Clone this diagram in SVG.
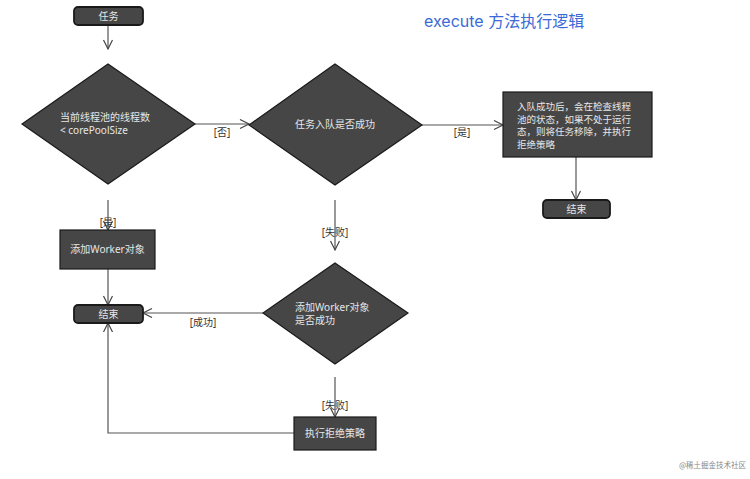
<svg xmlns="http://www.w3.org/2000/svg" width="750" height="479" viewBox="0 0 750 479">
<style>
.n{fill:#464646;stroke:#1a1a1a;stroke-width:1.2}
.r{fill:#464646;stroke:#1a1a1a;stroke-width:1.8}
.t{fill:#e6e6e6;font-family:"Noto Sans","Noto Sans CJK SC",sans-serif;font-size:10px}
.s{fill:#e6e6e6;font-family:"Noto Sans","Noto Sans CJK SC",sans-serif;font-size:9.5px}
.c{stroke:#555;stroke-width:1.2;fill:none}
.l{fill:#333;font-family:"Noto Sans","Noto Sans CJK SC",sans-serif;font-size:10px;text-anchor:middle}
</style>
<defs>
<marker id="a" markerUnits="userSpaceOnUse" markerWidth="12" markerHeight="12" refX="10" refY="5" orient="auto">
<path d="M1,0.5 L10,5 L1,9.5" fill="none" stroke="#444" stroke-width="1.2"/>
</marker>
</defs>
<rect width="750" height="479" fill="#fff"/>
<text x="424" y="27" font-family="Inter,'Noto Sans CJK SC',sans-serif" font-size="16" fill="#3a6ad6">execute 方法执行逻辑</text>
<g id="connectors">
<path class="c" d="M108,25 V49" marker-end="url(#a)"/>
<path class="c" d="M195,124 H249" marker-end="url(#a)"/>
<text class="l" x="222" y="136">[否]</text>
<path class="c" d="M422,125 H503" marker-end="url(#a)"/>
<text class="l" x="462" y="136">[是]</text>
<path class="c" d="M576,157 V200" marker-end="url(#a)"/>
<path class="c" d="M108,200 V230" marker-end="url(#a)"/>
<text class="l" x="108" y="226">[是]</text>
<path class="c" d="M108,269 V305" marker-end="url(#a)"/>
<path class="c" d="M335,200 V250" marker-end="url(#a)"/>
<text class="l" x="335" y="236">[失败]</text>
<path class="c" d="M263,313 H143" marker-end="url(#a)"/>
<text class="l" x="203" y="326">[成功]</text>
<path class="c" d="M335,377 V417" marker-end="url(#a)"/>
<text class="l" x="335" y="409">[失败]</text>
<path class="c" d="M294,433 H108 V323" marker-end="url(#a)"/>
</g>
<g id="start"><rect class="r" x="74" y="7" width="69" height="18" rx="4"/><text class="t" x="108.5" y="20" text-anchor="middle">任务</text></g>
<g id="d1"><polygon class="n" points="108,64 195,124 108,184 22,124"/><text class="t" x="60" y="121">当前线程池的线程数</text><text class="t" x="60" y="134">&lt; corePoolSize</text></g>
<g id="d2"><polygon class="n" points="335,64 422,125 335,185 249,125"/><text class="t" x="335" y="128" text-anchor="middle">任务入队是否成功</text></g>
<g id="box1"><rect class="n" x="503" y="92" width="149" height="65"/><text class="s" x="517" y="110">入队成功后，会在检查线程</text><text class="s" x="517" y="122.5">池的状态，如果不处于运行</text><text class="s" x="517" y="135">态，则将任务移除，并执行</text><text class="s" x="517" y="147.5">拒绝策略</text></g>
<g id="end1"><rect class="r" x="543" y="200" width="67" height="18" rx="4"/><text class="t" x="576.5" y="213" text-anchor="middle">结束</text></g>
<g id="add"><rect class="n" x="60" y="230" width="95" height="39"/><text class="t" x="107.5" y="253" text-anchor="middle">添加Worker对象</text></g>
<g id="end2"><rect class="r" x="74" y="305" width="69" height="18" rx="4"/><text class="t" x="108.5" y="318" text-anchor="middle">结束</text></g>
<g id="d3"><polygon class="n" points="335,263 408,313 335,364 263,313"/><text class="t" x="295" y="311">添加Worker对象</text><text class="t" x="295" y="324">是否成功</text></g>
<g id="reject"><rect class="n" x="294" y="417" width="82" height="33"/><text class="t" x="335" y="437" text-anchor="middle">执行拒绝策略</text></g>
<text x="746" y="468" text-anchor="end" font-family="'Noto Sans CJK SC',sans-serif" font-size="7.5" fill="#888">@稀土掘金技术社区</text>
</svg>
